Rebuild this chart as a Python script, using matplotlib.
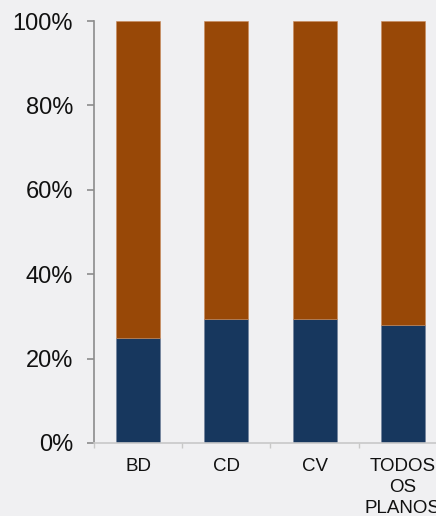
import numpy as np
import matplotlib.pyplot as plt
from matplotlib.ticker import FuncFormatter, FixedLocator

plt.rcParams['font.family'] = ['Liberation Sans', 'DejaVu Sans']

# data
categories = ['BD', 'CD', 'CV', 'TODOS\nOS\nPLANOS']
share_bottom = [24.8, 29.3, 29.3, 27.9]
share_top = [100 - v for v in share_bottom]

navy = '#17375E'
brown = '#984807'
bg = '#f0f0f2'

fig = plt.figure(figsize=(4.36, 5.16), dpi=100, facecolor=bg)
ax = fig.add_axes([0.2156, 0.1415, 0.8096, 0.8178])
ax.set_facecolor('none')

x = np.arange(len(categories))
ax.bar(x, share_bottom, width=0.5, color=navy, edgecolor='#6f7f99', linewidth=0.4)
ax.bar(x, share_top, width=0.5, bottom=share_bottom, color=brown,
       edgecolor='#c98a5a', linewidth=0.4)

ax.set_xlim(-0.5, len(categories) - 0.5)
ax.set_ylim(0, 100)

ax.set_yticks(np.arange(0, 101, 20))
ax.yaxis.set_major_formatter(FuncFormatter(lambda v, p: f'{v:.0f}%'))
ax.tick_params(axis='y', labelsize=17, length=5, width=1.2, color='#8c8c8c',
               pad=10, labelcolor='#111111')

ax.set_xticks(x)
ax.set_xticklabels(categories, fontsize=13.5, linespacing=1.3)
ax.xaxis.set_minor_locator(FixedLocator(np.arange(-0.5, len(categories), 1.0)))
ax.tick_params(axis='x', which='major', length=0, pad=11, labelcolor='#111111')
ax.tick_params(axis='x', which='minor', length=3.6, width=1, color='#c8c8c8')

for s in ['top', 'right']:
    ax.spines[s].set_visible(False)
ax.spines['left'].set_color('#8c8c8c')
ax.spines['left'].set_linewidth(1.2)
ax.spines['bottom'].set_color('#c8c8c8')
ax.spines['bottom'].set_linewidth(1.2)

fig.savefig('out.png', dpi=100, facecolor=bg)
